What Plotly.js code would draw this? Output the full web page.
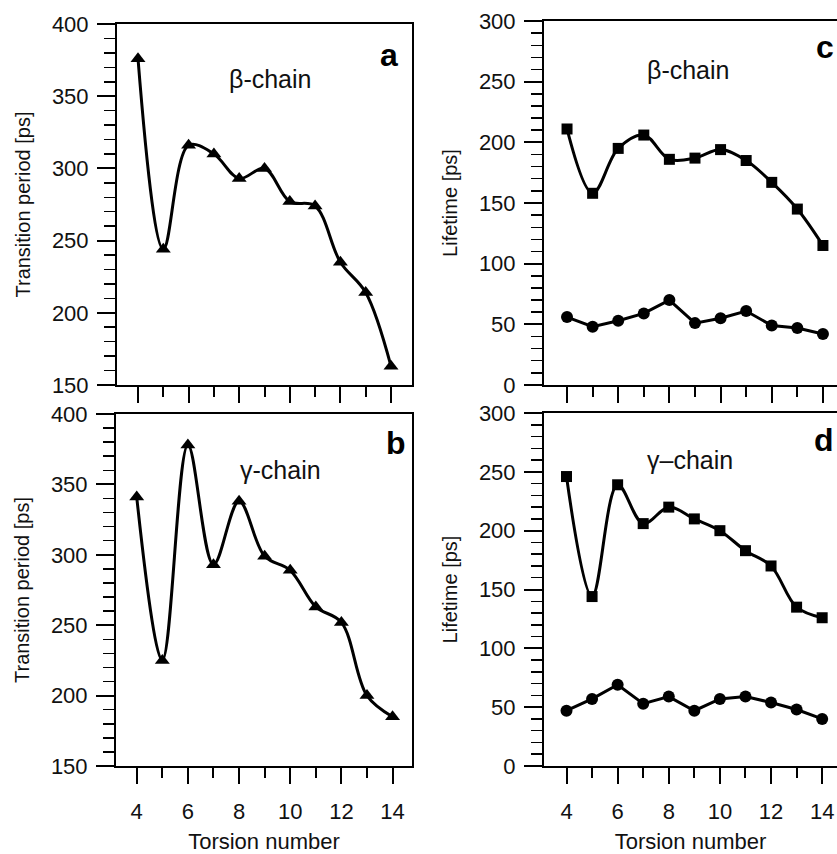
<!DOCTYPE html>
<html><head><meta charset="utf-8">
<script src="https://cdn.plot.ly/plotly-3.0.1.min.js"></script>
<style>html,body{margin:0;padding:0;background:#fff}</style>
</head><body><div id="chart" style="width:837px;height:854px"></div>
<script>
const torsion = [4,5,6,7,8,9,10,11,12,13,14];
const betaTransition = [376,244,316,310,293,300,277,274,235,214,163];
const gammaTransition = [341,225,378,293,338,299,289,263,252,200,185];
const betaLifetimeLong = [211,158,195,206,186,187,194,185,167,145,115];
const betaLifetimeShort = [56,48,53,59,70,51,55,61,49,47,42];
const gammaLifetimeLong = [246,144,239,206,220,210,200,183,170,135,126];
const gammaLifetimeShort = [47,57,69,53,59,47,57,59,54,48,40];
const xTickVals = [4,6,8,10,12,14];
const panelLabels = ['a','b','c','d'];
const chainLabels = ['β-chain','γ-chain','β-chain','γ–chain'];
const xTitle = 'Torsion number';
const yTitleLeft = 'Transition period [ps]';
const yTitleRight = 'Lifetime [ps]';

const W = 837, H = 854;
const px = v => v / W;
const py = v => 1 - v / H;
const FONT = 'Liberation Sans, Arial, Helvetica, sans-serif';

function tri(x, y, xa, ya) {
  return {x, y, xaxis: xa, yaxis: ya, type: 'scatter', mode: 'lines+markers',
    line: {color: '#000', width: 3, shape: 'spline', smoothing: 1},
    marker: {symbol: 'triangle-up', size: 13, color: '#000'}, showlegend: false, hoverinfo: 'skip'};
}
function sq(x, y, xa, ya) {
  return {x, y, xaxis: xa, yaxis: ya, type: 'scatter', mode: 'lines+markers',
    line: {color: '#000', width: 3, shape: 'spline', smoothing: 1},
    marker: {symbol: 'square', size: 11, color: '#000'}, showlegend: false, hoverinfo: 'skip'};
}
function circ(x, y, xa, ya) {
  return {x, y, xaxis: xa, yaxis: ya, type: 'scatter', mode: 'lines+markers',
    line: {color: '#000', width: 3, shape: 'linear'},
    marker: {symbol: 'circle', size: 12, color: '#000'}, showlegend: false, hoverinfo: 'skip'};
}

const data = [
  tri(torsion, betaTransition, 'x', 'y'),
  tri(torsion, gammaTransition, 'x2', 'y2'),
  sq(torsion, betaLifetimeLong, 'x3', 'y3'),
  circ(torsion, betaLifetimeShort, 'x3', 'y3'),
  sq(torsion, gammaLifetimeLong, 'x4', 'y4'),
  circ(torsion, gammaLifetimeShort, 'x4', 'y4')
];

function xax(domain, range, anchor, labels) {
  return {domain, range, anchor, showline: true, linecolor: '#000', linewidth: 2, mirror: true,
    ticks: 'outside', ticklen: 16, tickwidth: 2, tickcolor: '#000',
    tickmode: 'array', tickvals: xTickVals, showticklabels: labels, ticklabelstandoff: 9,
    minor: {ticks: 'outside', ticklen: 10, tickwidth: 2, tickcolor: '#000', dtick: 1, showgrid: false},
    showgrid: false, zeroline: false, fixedrange: true,
    tickfont: {family: FONT, size: 22, color: '#111'},
    title: labels ? {text: xTitle, font: {family: FONT, size: 22, color: '#111'}, standoff: 14} : {text: ''}};
}
function yax(domain, range, anchor, title, mirror) {
  return {domain, range, anchor, showline: true, linecolor: '#000', linewidth: 2, mirror: mirror,
    ticks: 'outside', ticklen: 18, tickwidth: 2, tickcolor: '#000', dtick: 50, tick0: 0,
    ticklabelstandoff: 4,
    minor: {ticks: 'outside', ticklen: 11, tickwidth: 1.5, tickcolor: '#000', dtick: 10, showgrid: false},
    showgrid: false, zeroline: false, fixedrange: true,
    tickfont: {family: FONT, size: 22, color: '#111'},
    title: {text: title, font: {family: FONT, size: 20, color: '#111'}, standoff: 16}};
}

const layout = {
  width: W, height: H, margin: {l: 0, r: 0, t: 0, b: 0},
  paper_bgcolor: '#fff', plot_bgcolor: '#fff', showlegend: false,
  xaxis: xax([px(117), px(412)], [3.17, 14.83], 'y', false),
  xaxis2: xax([px(116), px(412)], [3.19, 14.76], 'y2', true),
  xaxis3: xax([px(544), 1], [3.10, 14.55], 'y3', false),
  xaxis4: xax([px(544), 1], [3.12, 14.58], 'y4', true),
  yaxis: yax([py(385), py(24)], [150, 400], 'x', yTitleLeft, true),
  yaxis2: yax([py(766), py(414)], [150, 400], 'x2', yTitleLeft, true),
  yaxis3: yax([py(385), py(21)], [0, 300], 'x3', yTitleRight, false),
  yaxis4: yax([py(766), py(413)], [0, 300], 'x4', yTitleRight, false),
  annotations: [
    {text: '<b>' + panelLabels[0] + '</b>', x: px(389), y: py(55), xref: 'paper', yref: 'paper', xanchor: 'center', yanchor: 'middle', showarrow: false, font: {family: FONT, size: 32, color: '#000'}},
    {text: '<b>' + panelLabels[1] + '</b>', x: px(396), y: py(443), xref: 'paper', yref: 'paper', xanchor: 'center', yanchor: 'middle', showarrow: false, font: {family: FONT, size: 32, color: '#000'}},
    {text: '<b>' + panelLabels[2] + '</b>', x: px(835), y: py(47), xref: 'paper', yref: 'paper', xanchor: 'right', yanchor: 'middle', showarrow: false, borderpad: 0, font: {family: FONT, size: 32, color: '#000'}},
    {text: '<b>' + panelLabels[3] + '</b>', x: px(835), y: py(440), xref: 'paper', yref: 'paper', xanchor: 'right', yanchor: 'middle', showarrow: false, borderpad: 0, font: {family: FONT, size: 32, color: '#000'}},
    {text: chainLabels[0], x: px(270), y: py(79), xref: 'paper', yref: 'paper', xanchor: 'center', yanchor: 'middle', showarrow: false, font: {family: FONT, size: 25, color: '#111'}},
    {text: chainLabels[1], x: px(280), y: py(470), xref: 'paper', yref: 'paper', xanchor: 'center', yanchor: 'middle', showarrow: false, font: {family: FONT, size: 25, color: '#111'}},
    {text: chainLabels[2], x: px(688), y: py(70), xref: 'paper', yref: 'paper', xanchor: 'center', yanchor: 'middle', showarrow: false, font: {family: FONT, size: 25, color: '#111'}},
    {text: chainLabels[3], x: px(690), y: py(460), xref: 'paper', yref: 'paper', xanchor: 'center', yanchor: 'middle', showarrow: false, font: {family: FONT, size: 25, color: '#111'}}
  ]
};

Plotly.newPlot('chart', data, layout, {staticPlot: true, displayModeBar: false});
</script></body></html>
